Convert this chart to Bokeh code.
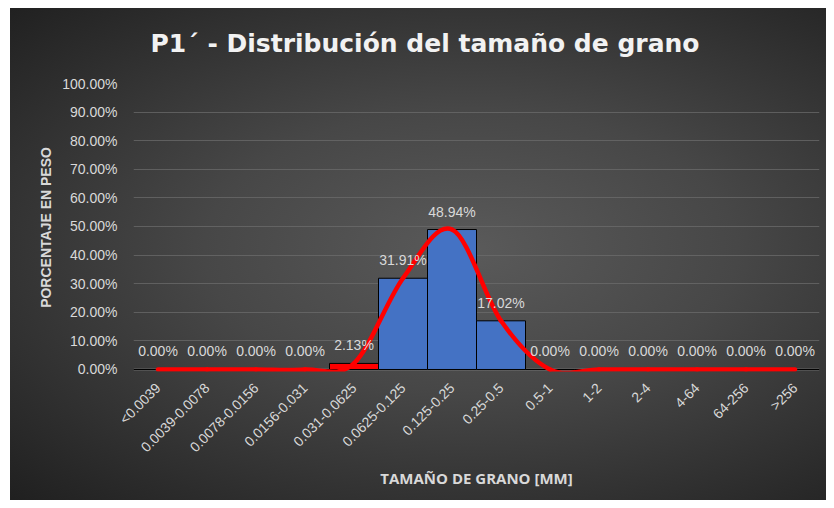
import math
from bokeh.plotting import figure
from bokeh.models import FactorRange, Range1d, FixedTicker, Span
from bokeh.core.properties import value
from bokeh.embed import file_html
from bokeh.resources import INLINE

# ---- data ----
categories = ["<0.0039", "0.0039-0.0078", "0.0078-0.0156", "0.0156-0.031",
              "0.031-0.0625", "0.0625-0.125", "0.125-0.25", "0.25-0.5",
              "0.5-1", "1-2", "2-4", "4-64", "64-256", ">256"]
percent = [0.00, 0.00, 0.00, 0.00, 2.13, 31.91, 48.94, 17.02,
           0.00, 0.00, 0.00, 0.00, 0.00, 0.00]
y_ticks = [0, 10, 20, 30, 40, 50, 60, 70, 80, 90, 100]
y_tick_labels = ["0.00%", "10.00%", "20.00%", "30.00%", "40.00%", "50.00%",
                 "60.00%", "70.00%", "80.00%", "90.00%", "100.00%"]
title_text = "P1\u00b4 - Distribución del tamaño de grano"
x_title = "TAMAÑO DE GRANO [MM]"
y_title = "PORCENTAJE EN PESO"

# ---- style ----
BLUE = "#4472C4"
RED = "#FF0000"
TXT = "#d9d9d9"
bar_colors = [RED if 0 < v < 5 else BLUE for v in percent]
data_labels = ["%.2f%%" % v for v in percent]

p = figure(x_range=FactorRange(*categories), y_range=Range1d(-0.7, 100),
           width=826, height=500, output_backend="svg", toolbar_location=None,
           min_border_left=133, min_border_right=7, min_border_top=83,
           min_border_bottom=129)
p.background_fill_color = None
p.border_fill_color = None
p.outline_line_color = None
p.styles = {"background": (
    "linear-gradient(#ffffff, #ffffff) left top / 100% 8px no-repeat, "
    "linear-gradient(#ffffff, #ffffff) left top / 10px 100% no-repeat, "
    "radial-gradient(ellipse farthest-corner at 57% 50%, #5a5a5a 0%, #474747 40%, "
    "#2c2c2c 80%, #1f1f1f 100%)")}

# title
p.title.text = title_text
p.title.align = "left"
p.title.offset = 17
p.title.standoff = 52
p.title.text_font = "DejaVu Sans"
p.title.text_font_style = "bold"
p.title.text_font_size = "25px"
p.title.text_color = "#f2f2f2"

# grid
p.xgrid.visible = False
p.ygrid.ticker = FixedTicker(ticks=y_ticks)
p.ygrid.grid_line_color = "#6e6e6e"
p.ygrid.grid_line_alpha = 0.7
p.ygrid.grid_line_width = 1

zero = Span(location=0, dimension="width", line_color="#9a9a9a",
            line_width=1.5, level="underlay")
p.add_layout(zero)

# y axis
ya = p.yaxis[0]
ya.ticker = FixedTicker(ticks=y_ticks)
ya.major_label_overrides = {t: l for t, l in zip(y_ticks, y_tick_labels)}
ya.axis_line_color = None
ya.major_tick_line_color = None
ya.minor_tick_line_color = None
ya.major_label_standoff = 10
ya.major_label_text_font = "Liberation Sans"
ya.major_label_text_font_size = "14px"
ya.major_label_text_color = TXT
ya.axis_label = y_title
ya.axis_label_text_font = "Liberation Sans"
ya.axis_label_text_font_style = "bold"
ya.axis_label_text_font_size = "14px"
ya.axis_label_text_color = TXT
ya.axis_label_standoff = 5

# x axis
xa = p.xaxis[0]
xa.axis_line_color = None
xa.major_tick_line_color = None
xa.minor_tick_line_color = None
xa.major_label_orientation = math.pi / 4
xa.major_label_standoff = 8
xa.major_label_text_font = "Liberation Sans"
xa.major_label_text_font_size = "14px"
xa.major_label_text_color = TXT
xa.axis_label = x_title
xa.axis_label_text_font = "Open Sans"
xa.axis_label_text_font_style = "bold"
xa.axis_label_text_font_size = "15px"
xa.axis_label_text_color = TXT
xa.axis_label_standoff = 4

# bars
p.vbar(x=categories, top=percent, width=1.0, fill_color=bar_colors,
       line_color="black", line_width=1)

# smoothed line (Bezier segments through the category centres)
xs = [i + 0.5 for i in range(len(percent))]
n = len(percent)
x0, y0, x1, y1, cx0, cy0, cx1, cy1 = [], [], [], [], [], [], [], []
for i in range(n - 1):
    im1 = max(i - 1, 0)
    ip2 = min(i + 2, n - 1)
    x0.append(xs[i]); y0.append(percent[i])
    x1.append(xs[i + 1]); y1.append(percent[i + 1])
    cx0.append(xs[i] + (xs[i + 1] - xs[im1]) / 6.0)
    cy0.append(percent[i] + (percent[i + 1] - percent[im1]) / 6.0)
    cx1.append(xs[i + 1] - (xs[ip2] - xs[i]) / 6.0)
    cy1.append(percent[i + 1] - (percent[ip2] - percent[i]) / 6.0)
p.bezier(x0=x0, y0=y0, x1=x1, y1=y1, cx0=cx0, cy0=cy0, cx1=cx1, cy1=cy1,
         line_color=RED, line_width=4.5, line_cap="round")

# data labels
p.text(x=categories, y=percent, text=data_labels, text_align="center",
       text_baseline="middle", y_offset=-18, text_font=value("Liberation Sans"),
       text_font_size="14px", text_color=TXT)

open("out.html", "w").write(file_html(p, INLINE))
